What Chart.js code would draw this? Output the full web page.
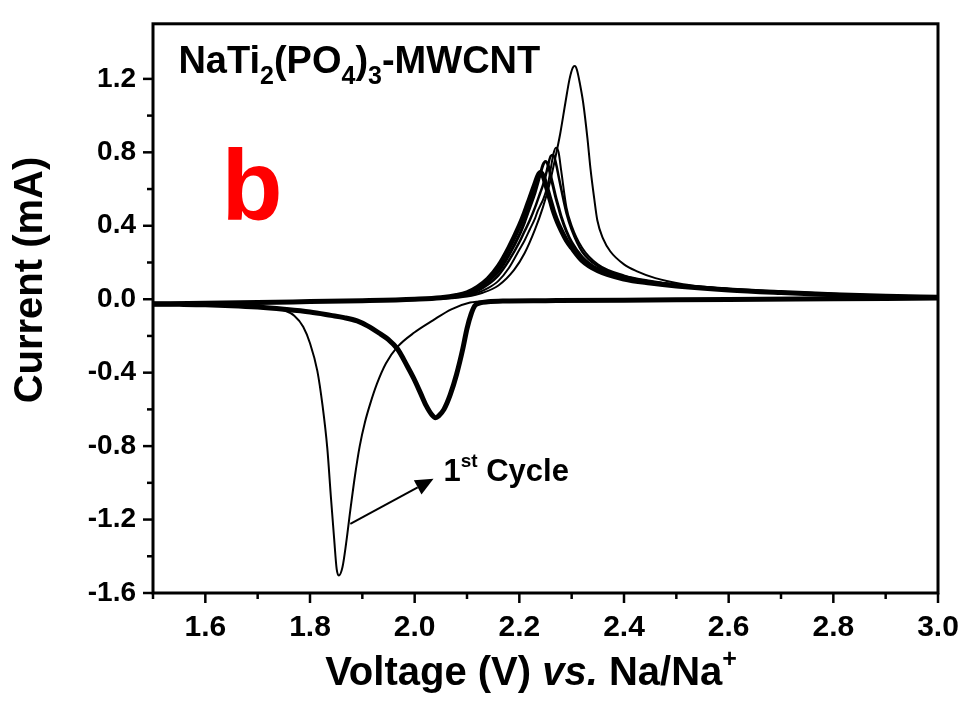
<!DOCTYPE html>
<html>
<head>
<meta charset="utf-8">
<script src="https://cdn.jsdelivr.net/npm/chart.js@4.4.0/dist/chart.umd.min.js"></script>
<style>
  html, body { margin: 0; padding: 0; background: #fff; }
  #wrap { width: 969px; height: 716px; }
</style>
</head>
<body>
<div id="wrap"><canvas id="cvChart" width="969" height="716"></canvas></div>
<script>
// --- dados (V vs. Na/Na+, corrente em mA) ---
const xTickLabels = ['1.6', '1.8', '2.0', '2.2', '2.4', '2.6', '2.8', '3.0'];
const yTickLabels = ['-1.6', '-1.2', '-0.8', '-0.4', '0.0', '0.4', '0.8', '1.2'];

// 1o ciclo, varredura catodica (3.0 -> 1.5 V)
const cycle1CathV = [3.0, 2.8, 2.6, 2.4, 2.2, 2.14, 2.106, 2.07, 2.035, 2.0, 1.967, 1.945, 1.928, 1.915, 1.905, 1.895, 1.886, 1.877, 1.869, 1.862, 1.855, 1.851, 1.846, 1.84, 1.833, 1.824, 1.814, 1.8, 1.787, 1.77, 1.75, 1.72, 1.7, 1.65, 1.6, 1.5];
const cycle1CathI = [0.004, 0.0, -0.003, -0.006, -0.008, -0.01, -0.018, -0.055, -0.115, -0.18, -0.26, -0.35, -0.46, -0.57, -0.67, -0.8, -0.96, -1.15, -1.33, -1.46, -1.505, -1.47, -1.3, -1.08, -0.81, -0.58, -0.39, -0.24, -0.15, -0.09, -0.06, -0.045, -0.04, -0.033, -0.03, -0.027];

// 1o ciclo, varredura anodica (1.5 -> 3.0 V)
const cycle1AnodV = [1.5, 1.6, 1.7, 1.8, 1.9, 2.0, 2.05, 2.1, 2.13, 2.16, 2.19, 2.21, 2.23, 2.245, 2.258, 2.268, 2.278, 2.288, 2.296, 2.302, 2.306, 2.31, 2.316, 2.322, 2.33, 2.336, 2.343, 2.349, 2.36, 2.374, 2.4, 2.425, 2.46, 2.513, 2.56, 2.641, 2.7, 2.8, 2.9, 3.0];
const cycle1AnodI = [-0.027, -0.024, -0.02, -0.014, -0.009, -0.004, 0.002, 0.015, 0.035, 0.075, 0.16, 0.25, 0.38, 0.5, 0.63, 0.76, 0.9, 1.07, 1.2, 1.26, 1.27, 1.25, 1.17, 1.07, 0.88, 0.71, 0.55, 0.43, 0.33, 0.26, 0.19, 0.152, 0.115, 0.082, 0.066, 0.047, 0.038, 0.026, 0.016, 0.011];

// ciclos seguintes, varredura catodica (faixa grossa)
const laterCathV = [3.0, 2.8, 2.6, 2.4, 2.25, 2.17, 2.14, 2.125, 2.115, 2.108, 2.1, 2.092, 2.08, 2.068, 2.056, 2.046, 2.04, 2.033, 2.022, 2.011, 1.998, 1.986, 1.967, 1.95, 1.935, 1.91, 1.89, 1.865, 1.84, 1.8, 1.75, 1.7, 1.65, 1.6, 1.55, 1.5];
const laterCathI = [0.006, 0.002, -0.002, -0.005, -0.008, -0.01, -0.014, -0.02, -0.035, -0.08, -0.16, -0.27, -0.41, -0.52, -0.6, -0.635, -0.645, -0.63, -0.58, -0.51, -0.43, -0.365, -0.27, -0.22, -0.19, -0.145, -0.118, -0.1, -0.088, -0.07, -0.055, -0.043, -0.035, -0.03, -0.028, -0.027];

// ciclos seguintes, varredura anodica (mesma grade de tensao)
const laterAnodV = [1.5, 1.6, 1.7, 1.8, 1.9, 2.0, 2.05, 2.08, 2.1, 2.12, 2.14, 2.16, 2.18, 2.2, 2.21, 2.22, 2.23, 2.235, 2.24, 2.245, 2.25, 2.255, 2.26, 2.265, 2.27, 2.275, 2.28, 2.29, 2.3, 2.32, 2.35, 2.4, 2.45, 2.5, 2.6, 2.7, 2.8, 2.9, 3.0];
const cycle2AnodI = [-0.025, -0.022, -0.018, -0.013, -0.008, -0.002, 0.004, 0.012, 0.02, 0.035, 0.06, 0.1, 0.17, 0.27, 0.32, 0.38, 0.44, 0.48, 0.51, 0.54, 0.58, 0.63, 0.71, 0.79, 0.825, 0.8, 0.7, 0.5, 0.4, 0.28, 0.19, 0.13, 0.1, 0.08, 0.056, 0.04, 0.028, 0.018, 0.012];
const cycle3AnodI = [-0.025, -0.022, -0.018, -0.013, -0.008, -0.001, 0.005, 0.014, 0.025, 0.045, 0.08, 0.13, 0.21, 0.31, 0.37, 0.43, 0.5, 0.54, 0.58, 0.62, 0.67, 0.73, 0.78, 0.785, 0.74, 0.67, 0.6, 0.47, 0.38, 0.26, 0.18, 0.125, 0.095, 0.078, 0.055, 0.04, 0.028, 0.018, 0.012];
const cycle4AnodI = [-0.025, -0.022, -0.018, -0.013, -0.008, 0.0, 0.006, 0.016, 0.03, 0.055, 0.095, 0.15, 0.24, 0.35, 0.42, 0.5, 0.58, 0.63, 0.68, 0.73, 0.75, 0.73, 0.67, 0.61, 0.55, 0.5, 0.45, 0.37, 0.31, 0.23, 0.165, 0.12, 0.092, 0.075, 0.053, 0.038, 0.027, 0.017, 0.011];
const cycleNAnodI = [-0.025, -0.022, -0.018, -0.013, -0.008, 0.0, 0.008, 0.02, 0.035, 0.065, 0.11, 0.18, 0.28, 0.4, 0.47, 0.55, 0.63, 0.67, 0.69, 0.675, 0.63, 0.58, 0.53, 0.48, 0.44, 0.405, 0.375, 0.32, 0.28, 0.21, 0.155, 0.11, 0.088, 0.072, 0.05, 0.036, 0.025, 0.016, 0.011];

// anotacoes (em unidades de dados)
const formulaAt = [1.5485, 1.233];
const panelAt = [1.631, 0.43];
const cycleLabelAt = [2.055, -0.988];
const arrowFrom = [1.877, -1.224];
const arrowTo = [2.036, -0.978];

const FONT = "'Liberation Sans', Arial, sans-serif";
const NARROW = "'Liberation Sans Narrow', 'Liberation Sans', Arial, sans-serif";

function toPoints(vs, is) {
    return vs.map((v, k) => ({ x: v, y: is[k] }));
}

function curve(vs, is, width) {
    return {
        data: toPoints(vs, is),
        showLine: true,
        borderColor: '#000',
        borderWidth: width,
        pointRadius: 0,
        cubicInterpolationMode: 'monotone',
        fill: false
    };
}

function matchesLabel(v, labels) {
    return labels.find(l => Math.abs(parseFloat(l) - v) < 1e-6);
}

// desenha texto com varios estilos em sequencia
function drawRuns(ctx, x, y, runs, align) {
    let total = 0;
    runs.forEach(r => { ctx.font = r[1]; total += ctx.measureText(r[0]).width; });
    let cx = align === 'center' ? x - total / 2 : x;
    runs.forEach(r => {
        ctx.font = r[1];
        ctx.fillText(r[0], cx, y + (r[2] || 0));
        cx += ctx.measureText(r[0]).width;
    });
}

const framePlugin = {
    id: 'framePlugin',
    afterDraw(chart) {
        const { ctx, chartArea: a, scales: { x, y } } = chart;
        ctx.save();
        ctx.strokeStyle = '#000';
        ctx.fillStyle = '#000';
        ctx.lineWidth = 3;
        ctx.strokeRect(a.left, a.top, a.right - a.left, a.bottom - a.top);

        // ticks externos (maiores e menores)
        ctx.lineWidth = 2.5;
        x.ticks.forEach(t => {
            const px = x.getPixelForValue(t.value);
            const len = matchesLabel(t.value, xTickLabels) ? 10 : 6;
            ctx.beginPath(); ctx.moveTo(px, a.bottom); ctx.lineTo(px, a.bottom + len); ctx.stroke();
        });
        y.ticks.forEach(t => {
            if (Math.abs(t.value * 5 - Math.round(t.value * 5)) > 1e-6) return;
            const py = y.getPixelForValue(t.value);
            const len = matchesLabel(t.value, yTickLabels) ? 10 : 6;
            ctx.beginPath(); ctx.moveTo(a.left, py); ctx.lineTo(a.left - len, py); ctx.stroke();
        });

        ctx.textBaseline = 'alphabetic';
        ctx.textAlign = 'left';

        // formula
        drawRuns(ctx, x.getPixelForValue(formulaAt[0]), y.getPixelForValue(formulaAt[1]), [
            ['NaTi', 'bold 38px ' + FONT],
            ['2', 'bold 25px ' + FONT, 11],
            ['(PO', 'bold 38px ' + FONT],
            ['4', 'bold 25px ' + FONT, 11],
            [')', 'bold 38px ' + FONT],
            ['3', 'bold 25px ' + FONT, 11],
            ['-MWCNT', 'bold 38px ' + FONT]
        ]);

        // letra do painel
        ctx.fillStyle = '#ff0000';
        ctx.font = 'bold 100px ' + FONT;
        ctx.fillText('b', x.getPixelForValue(panelAt[0]), y.getPixelForValue(panelAt[1]));
        ctx.fillStyle = '#000';

        // 1st Cycle
        drawRuns(ctx, x.getPixelForValue(cycleLabelAt[0]), y.getPixelForValue(cycleLabelAt[1]), [
            ['1', 'bold 31px ' + FONT],
            ['st', 'bold 19px ' + FONT, -14],
            [' Cycle', 'bold 31px ' + FONT]
        ]);

        // seta
        const x0 = x.getPixelForValue(arrowFrom[0]), y0 = y.getPixelForValue(arrowFrom[1]);
        const x1 = x.getPixelForValue(arrowTo[0]), y1 = y.getPixelForValue(arrowTo[1]);
        const ang = Math.atan2(y1 - y0, x1 - x0);
        const headLen = 18, headW = 8;
        const bx = x1 - headLen * Math.cos(ang), by = y1 - headLen * Math.sin(ang);
        ctx.lineWidth = 2;
        ctx.beginPath(); ctx.moveTo(x0, y0); ctx.lineTo(bx, by); ctx.stroke();
        ctx.beginPath();
        ctx.moveTo(x1, y1);
        ctx.lineTo(bx + headW * Math.sin(ang), by - headW * Math.cos(ang));
        ctx.lineTo(bx - headW * Math.sin(ang), by + headW * Math.cos(ang));
        ctx.closePath();
        ctx.fill();

        // titulos dos eixos
        drawRuns(ctx, 531, 685, [
            ['Voltage (V) ', 'bold 40px ' + FONT],
            ['vs.', 'italic bold 40px ' + FONT],
            [' Na/Na', 'bold 40px ' + FONT],
            ['+', 'bold 25px ' + FONT, -18]
        ], 'center');

        ctx.save();
        ctx.translate(31, 280);
        ctx.rotate(-Math.PI / 2);
        ctx.textAlign = 'center';
        ctx.textBaseline = 'middle';
        ctx.font = 'bold 40px ' + FONT;
        ctx.fillText('Current (mA)', 0, 0);
        ctx.restore();

        ctx.restore();
    }
};

const ctx = document.getElementById('cvChart').getContext('2d');
const chart = new Chart(ctx, {
    type: 'scatter',
    data: {
        datasets: [
            curve(cycle1CathV, cycle1CathI, 2),
            curve(cycle1AnodV, cycle1AnodI, 2),
            curve(laterCathV, laterCathI, 5),
            curve(laterAnodV, cycle2AnodI, 2),
            curve(laterAnodV, cycle3AnodI, 2.5),
            curve(laterAnodV, cycle4AnodI, 3),
            curve(laterAnodV, cycleNAnodI, 5)
        ]
    },
    options: {
        responsive: false,
        animation: false,
        events: [],
        layout: { padding: { top: 16, right: 31, left: 0, bottom: 0 } },
        plugins: { legend: { display: false }, tooltip: { enabled: false } },
        scales: {
            x: {
                type: 'linear',
                min: 1.5,
                max: 3.0,
                afterFit: s => { s.height = 123; },
                border: { display: false },
                grid: { drawOnChartArea: false, tickLength: 10, tickColor: 'rgba(0,0,0,0)' },
                ticks: {
                    stepSize: 0.1,
                    autoSkip: false,
                    maxRotation: 0,
                    padding: 7,
                    color: '#000',
                    font: { family: NARROW, size: 30, weight: 'bold' },
                    callback: v => matchesLabel(v, xTickLabels) || ''
                }
            },
            y: {
                type: 'linear',
                min: -1.6,
                max: 1.5,
                afterFit: s => { s.width = 153; },
                border: { display: false },
                grid: { drawOnChartArea: false, tickLength: 10, tickColor: 'rgba(0,0,0,0)' },
                ticks: {
                    stepSize: 0.2,
                    autoSkip: false,
                    padding: 7,
                    color: '#000',
                    font: { family: FONT, size: 28, weight: 'bold' },
                    callback: v => matchesLabel(v, yTickLabels) || ''
                }
            }
        }
    },
    plugins: [framePlugin]
});
</script>
</body>
</html>
